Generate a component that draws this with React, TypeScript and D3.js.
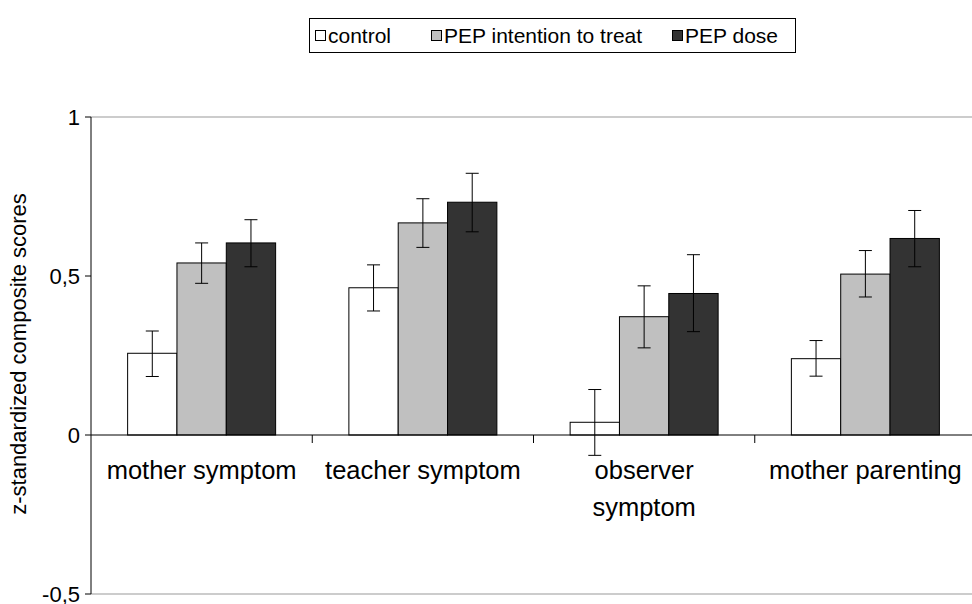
import React from "react";
import * as d3 from "d3";

const categories = ["mother symptom", "teacher symptom", "observer symptom", "mother parenting"];
const categoryLines = [["mother symptom"], ["teacher symptom"], ["observer", "symptom"], ["mother parenting"]];
const seriesNames = ["control", "PEP intention to treat", "PEP dose"];
const seriesColors = ["#ffffff", "#c0c0c0", "#333333"];

const controlMean = [0.257, 0.463, 0.040, 0.240];
const controlHigh = [0.327, 0.535, 0.143, 0.297];
const controlLow = [0.184, 0.390, -0.064, 0.185];

const ittMean = [0.541, 0.667, 0.372, 0.506];
const ittHigh = [0.604, 0.743, 0.469, 0.580];
const ittLow = [0.477, 0.590, 0.274, 0.434];

const doseMean = [0.604, 0.732, 0.445, 0.618];
const doseHigh = [0.677, 0.823, 0.567, 0.706];
const doseLow = [0.529, 0.639, 0.325, 0.529];

const yTicks = [1, 0.5, 0, -0.5];
const yTickLabels = ["1", "0,5", "0", "-0,5"];

const means = [controlMean, ittMean, doseMean];
const highs = [controlHigh, ittHigh, doseHigh];
const lows = [controlLow, ittLow, doseLow];

const FONT = "'Liberation Sans', Arial, Helvetica, sans-serif";

export default function App() {
  const W = 972, H = 604;
  const left = 91, right = 976, top = 117, bottom = 594;
  const y = d3.scaleLinear().domain([-0.5, 1]).range([bottom, top]);
  const x = d3.scaleBand<string>().domain(categories).range([left, right]).paddingInner(0).paddingOuter(0);
  const groupWidth = 148;
  const inner = d3.scaleBand<string>().domain(seriesNames).range([0, groupWidth]).padding(0);
  const capHalf = 6.5;

  const legendItems = [
    { name: seriesNames[0], sq: 315, tx: 328 },
    { name: seriesNames[1], sq: 431, tx: 444 },
    { name: seriesNames[2], sq: 672, tx: 685 },
  ];

  return (
    <svg width={W} height={H} style={{ position: "absolute", left: 0, top: 0, background: "#fff" }}>
      <rect x={0} y={0} width={W} height={H} fill="#fff" />
      {/* legend */}
      <rect x={309.5} y={18.5} width={486} height={34} fill="#fff" stroke="#000" strokeWidth={1} />
      {legendItems.map((it, i) => (
        <g key={it.name}>
          <rect x={it.sq + 0.5} y={30.5} width={10} height={10} fill={seriesColors[i]} stroke="#000" strokeWidth={1} />
          <text x={it.tx} y={43} fontFamily={FONT} fontSize={21} fill="#000">{it.name}</text>
        </g>
      ))}

      {/* top and bottom border lines */}
      <line x1={left} x2={right} y1={y(1)} y2={y(1)} stroke="#999" strokeWidth={1} />
      <line x1={left} x2={right} y1={y(-0.5)} y2={y(-0.5)} stroke="#999" strokeWidth={1} />

      {/* bars */}
      {categories.map((c, ci) => {
        const gx = (x(c) as number) + x.bandwidth() / 2 - groupWidth / 2;
        return (
          <g key={c}>
            {seriesNames.map((s, si) => {
              const v = means[si][ci];
              const bx = gx + (inner(s) as number);
              const y0 = y(Math.max(0, v));
              const h = Math.abs(y(v) - y(0));
              return (
                <rect key={s} x={bx} y={y0} width={inner.bandwidth()} height={h}
                  fill={seriesColors[si]} stroke="#000" strokeWidth={1} />
              );
            })}
          </g>
        );
      })}

      {/* zero axis */}
      <line x1={left} x2={right} y1={y(0)} y2={y(0)} stroke="#000" strokeWidth={1} />
      {categories.map((c, ci) => ci === 0 ? null : (
        <line key={c} x1={x(c) as number} x2={x(c) as number} y1={y(0)} y2={y(0) + 8} stroke="#000" strokeWidth={1} />
      ))}

      {/* error bars */}
      {categories.map((c, ci) => {
        const gx = (x(c) as number) + x.bandwidth() / 2 - groupWidth / 2;
        return seriesNames.map((s, si) => {
          const cx = gx + (inner(s) as number) + inner.bandwidth() / 2;
          const yh = y(highs[si][ci]);
          const yl = y(lows[si][ci]);
          return (
            <g key={c + s} stroke="#000" strokeWidth={1}>
              <line x1={cx} x2={cx} y1={yh} y2={yl} />
              <line x1={cx - capHalf} x2={cx + capHalf} y1={yh} y2={yh} />
              <line x1={cx - capHalf} x2={cx + capHalf} y1={yl} y2={yl} />
            </g>
          );
        });
      })}

      {/* y axis */}
      <line x1={left} x2={left} y1={top} y2={bottom} stroke="#000" strokeWidth={1} />
      {yTicks.map((t, i) => (
        <g key={t}>
          <line x1={left - 6} x2={left} y1={y(t)} y2={y(t)} stroke="#000" strokeWidth={1} />
          <text x={80} y={y(t) + 8} textAnchor="end" fontFamily={FONT} fontSize={22} fill="#000">{yTickLabels[i]}</text>
        </g>
      ))}

      {/* category labels */}
      {categories.map((c, ci) => {
        const cx = (x(c) as number) + x.bandwidth() / 2;
        return categoryLines[ci].map((ln, li) => (
          <text key={c + li} x={cx} y={479 + li * 37} textAnchor="middle" fontFamily={FONT} fontSize={25.5} fill="#000">{ln}</text>
        ));
      })}

      {/* y title */}
      <text transform={`translate(26,354) rotate(-90)`} textAnchor="middle" fontFamily={FONT} fontSize={22} fill="#000">
        z-standardized composite scores
      </text>
    </svg>
  );
}
